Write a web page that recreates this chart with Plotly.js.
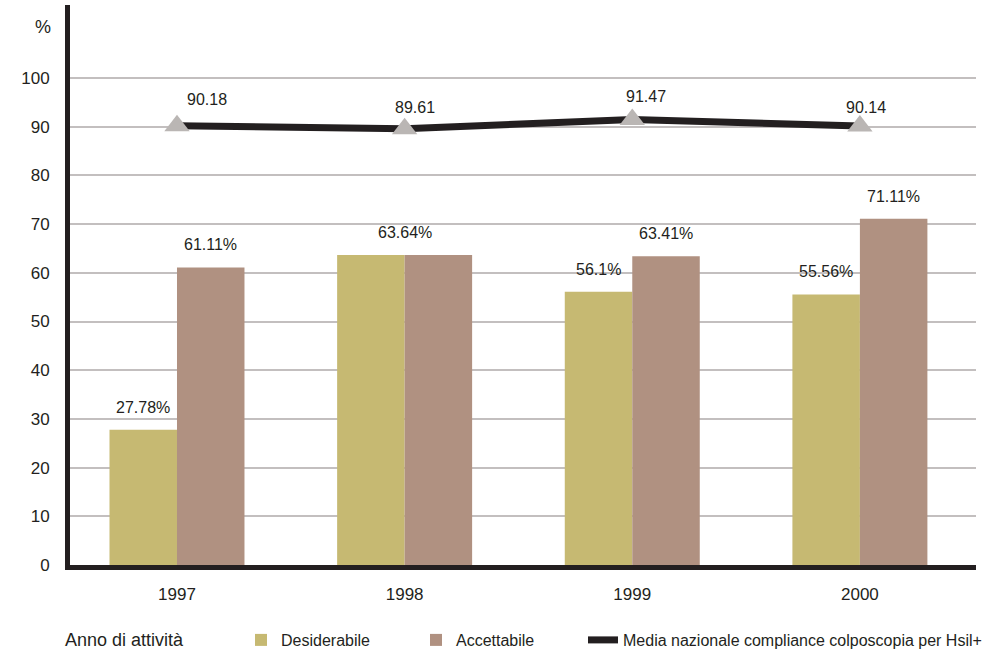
<!DOCTYPE html>
<html>
<head>
<meta charset="utf-8">
<script src="https://cdn.plot.ly/plotly-3.0.1.min.js"></script>
<style>
  html, body { margin: 0; padding: 0; background: #ffffff; }
  #chart { width: 1001px; height: 654px; }
</style>
</head>
<body>
<div id="chart"></div>
<script>
// Anni di attività e percentuali
const anni = ['1997', '1998', '1999', '2000'];
const desiderabile = [27.78, 63.64, 56.1, 55.56];
const accettabile = [61.11, 63.64, 63.41, 71.11];
const mediaNazionale = [90.18, 89.61, 91.47, 90.14];
const yTicks = [0, 10, 20, 30, 40, 50, 60, 70, 80, 90, 100];

// Stile
const INK = '#231f20';
const COL_DES = '#c6b972';
const COL_ACC = '#b09181';
const COL_TRI = '#bab6b4';
const FONT = 'Liberation Sans, Arial, sans-serif';
const BARGAP = 0.407;
const half = (1 - BARGAP) / 4; // distanza del centro di ogni barra dal centro del gruppo

// piccoli spostamenti delle etichette della media nazionale (px)
const mediaLabelShift = [[30, 26], [10, 21], [14, 23], [6, 19]];

const traces = [
  {
    type: 'bar', name: 'Desiderabile', x: anni, y: desiderabile,
    marker: { color: COL_DES }, legend: 'legend', hoverinfo: 'skip'
  },
  {
    type: 'bar', name: 'Accettabile', x: anni, y: accettabile,
    marker: { color: COL_ACC }, legend: 'legend2', hoverinfo: 'skip'
  },
  {
    type: 'scatter', mode: 'lines', name: 'Media nazionale compliance colposcopia per Hsil+',
    x: anni, y: mediaNazionale, line: { color: INK, width: 7 }, legend: 'legend3', hoverinfo: 'skip'
  },
  {
    type: 'scatter', mode: 'markers', x: anni, y: mediaNazionale, showlegend: false,
    marker: { symbol: 'triangle-up', size: 22, color: COL_TRI }, hoverinfo: 'skip'
  }
];

const annotations = [];
// etichette delle barre
anni.forEach((a, i) => {
  const lab = { font: { family: FONT, size: 16, color: INK }, showarrow: false, yanchor: 'bottom', yshift: 12 };
  if (desiderabile[i] === accettabile[i]) {
    annotations.push(Object.assign({}, lab, { x: i, y: desiderabile[i], text: desiderabile[i] + '%' }));
  } else {
    annotations.push(Object.assign({}, lab, { x: i - half, y: desiderabile[i], text: desiderabile[i] + '%' }));
    annotations.push(Object.assign({}, lab, { x: i + half, y: accettabile[i], text: accettabile[i] + '%' }));
  }
  // etichette della media nazionale
  annotations.push({
    x: i, y: mediaNazionale[i], text: mediaNazionale[i].toFixed(2),
    font: { family: FONT, size: 16, color: INK }, showarrow: false,
    xshift: mediaLabelShift[i][0], yshift: mediaLabelShift[i][1], yanchor: 'middle'
  });
});
// unità dell'asse y
annotations.push({
  xref: 'paper', x: 0, xanchor: 'right', xshift: -17, y: 110.5, yanchor: 'middle',
  text: '%', showarrow: false, font: { family: FONT, size: 18, color: INK }
});
// titolo della legenda
annotations.push({
  xref: 'paper', yref: 'paper', x: (63 - 70) / 906, xanchor: 'left', y: (565 - 640) / 560, yanchor: 'middle',
  text: 'Anno di attività', showarrow: false, font: { family: FONT, size: 18, color: INK }
});

const legendBase = {
  orientation: 'h', xref: 'container', yref: 'container', xanchor: 'left', yanchor: 'middle',
  y: 1 - 640 / 654, bgcolor: 'rgba(0,0,0,0)', font: { family: FONT, size: 16, color: INK }
};

const layout = {
  width: 1001, height: 654,
  margin: { l: 70, r: 25, t: 5, b: 89 },
  paper_bgcolor: '#ffffff', plot_bgcolor: '#ffffff',
  barmode: 'group', bargap: BARGAP, bargroupgap: 0,
  font: { family: FONT, size: 17, color: INK },
  xaxis: {
    type: 'category', range: [-0.47, 3.51], showgrid: false, zeroline: false,
    showline: true, linecolor: INK, linewidth: 5, ticks: '', ticklabelstandoff: 10,
    tickfont: { family: FONT, size: 17, color: INK }
  },
  yaxis: {
    range: [0, 115], tickvals: yTicks, showgrid: true, gridcolor: '#c3bfbf', gridwidth: 2,
    zeroline: false, showline: true, linecolor: INK, linewidth: 5, ticks: '', ticklabelstandoff: 12,
    tickfont: { family: FONT, size: 17, color: INK }
  },
  showlegend: true,
  legend: Object.assign({}, legendBase, { x: 241 / 1001 }),
  legend2: Object.assign({}, legendBase, { x: 416 / 1001 }),
  legend3: Object.assign({}, legendBase, { x: 583 / 1001 }),
  annotations: annotations
};

Plotly.newPlot('chart', traces, layout, { displayModeBar: false, staticPlot: true });
</script>
</body>
</html>
